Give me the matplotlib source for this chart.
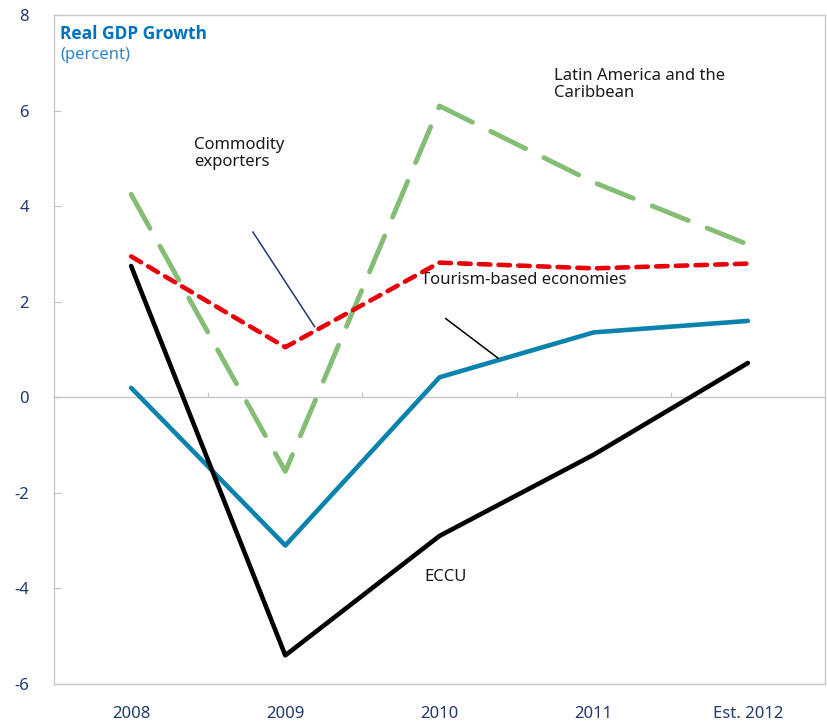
import matplotlib
matplotlib.use("Agg")
import matplotlib.pyplot as plt
import numpy as np

categories = ["2008", "2009", "2010", "2011", "Est. 2012"]
latam = [4.25, -1.55, 6.1, 4.5, 3.2]
tourism = [2.95, 1.05, 2.82, 2.7, 2.8]
commodity = [0.2, -3.1, 0.42, 1.36, 1.6]
eccu = [2.75, -5.4, -2.9, -1.2, 0.72]
yticks = [-6, -4, -2, 0, 2, 4, 6, 8]

plt.rcParams['font.family'] = ['Noto Sans', 'DejaVu Sans']

fig = plt.figure(figsize=(8.27, 7.22), dpi=100)
ax = fig.add_axes([0.0653, 0.0526, 0.9323, 0.9264])
x = np.arange(len(categories))

ax.plot(x, latam, color="#84BE74", lw=3.5, dashes=(8, 4.2), dash_capstyle='round', zorder=3)
ax.plot(x, tourism, color="#E8000B", lw=3.3, dashes=(2.5, 1.8), dash_capstyle='round', zorder=4)
ax.plot(x, commodity, color="#0A82AE", lw=3.3, solid_capstyle='round', zorder=3)
ax.plot(x, eccu, color="#000000", lw=3.3, solid_capstyle='round', zorder=3)

ax.set_xlim(-0.5, len(categories) - 0.5)
ax.set_ylim(-6, 8)
ax.set_yticks(yticks)
ax.set_yticklabels([str(v) for v in yticks])
ax.set_xticks(x)
ax.set_xticklabels(categories)
ax.tick_params(axis='x', length=0, pad=16, labelsize=12, labelcolor="#1F3A6E")
ax.tick_params(axis='y', direction='in', length=5, width=0.8, color="#BFBFBF", pad=18, labelsize=12, labelcolor="#1F3A6E")
for s in ax.spines.values():
    s.set_color("#C8C8C8")
    s.set_linewidth(1.0)

# zero line with category-boundary ticks
ax.axhline(0, color="#C8C8C8", lw=1.0, zorder=1)
bounds = x[:-1] + 0.5
ax.vlines(bounds, 0, 0.12, color="#C8C8C8", lw=1.0, zorder=1)

# title
ax.text(0.008, 0.986, "Real GDP Growth", transform=ax.transAxes, color="#0070C0",
        fontsize=12.5, fontweight='bold', va='top', ha='left',
        family=['Open Sans', 'Lato', 'DejaVu Sans'])
ax.text(0.008, 0.953, "(percent)", transform=ax.transAxes, color="#2E86C9",
        fontsize=12, va='top', ha='left')

# annotations
ax.text(2.74, 6.55, "Latin America and the\nCaribbean", fontsize=12, color="#1A1A1A",
        va='center', ha='left', linespacing=1.1)
ax.text(0.41, 5.1, "Commodity\nexporters", fontsize=12, color="#1A1A1A",
        va='center', ha='left', linespacing=1.1)
ax.text(1.88, 2.45, "Tourism-based economies", fontsize=12, color="#1A1A1A",
        va='center', ha='left')
ax.text(1.9, -3.75, "ECCU", fontsize=12, color="#1A1A1A", va='center', ha='left')

ax.plot([0.79, 1.19], [3.46, 1.48], color="#1F3A6E", lw=1.1, zorder=5)
ax.plot([2.04, 2.38], [1.65, 0.82], color="#000000", lw=1.1, zorder=5)

fig.savefig("out.png", dpi=100)
